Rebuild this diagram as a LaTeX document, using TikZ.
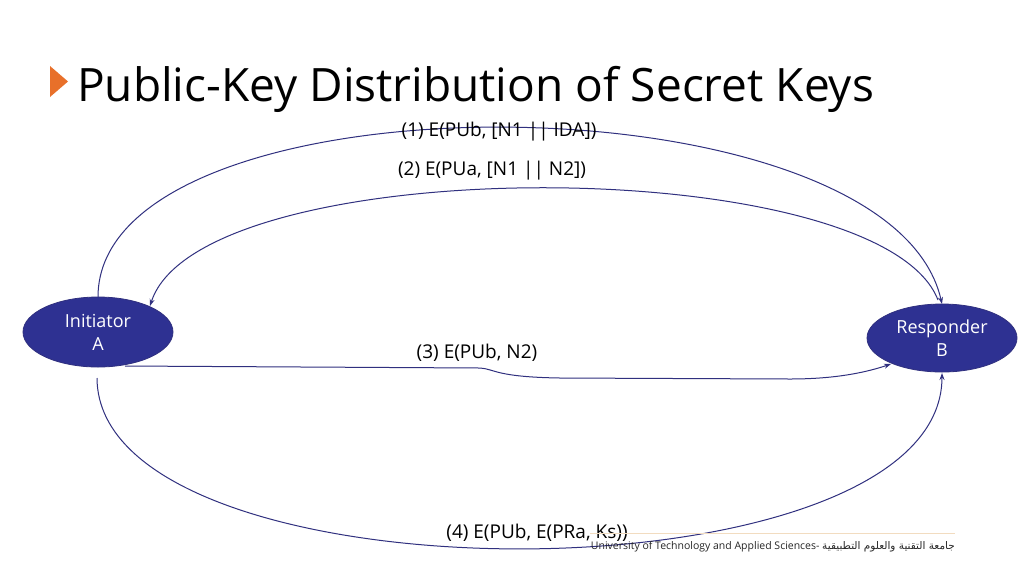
\documentclass[tikz,border=0pt]{standalone}
\usepackage{fontspec}
\setmainfont{Open Sans}
\newfontfamily\arabicfont[Script=Arabic]{DejaVu Sans}
\TeXXeTstate=1
\usetikzlibrary{shapes.geometric,arrows.meta}
\definecolor{navy}{HTML}{2E3192}
\definecolor{linecol}{HTML}{30307F}
\definecolor{orng}{HTML}{E8702A}
\definecolor{beige}{HTML}{F2DCC0}
\begin{document}
\begin{tikzpicture}[x=1pt,y=-1pt,
  party/.style={ellipse,fill=navy,draw=linecol,line width=0.8pt,minimum width=150pt,minimum height=70pt,inner sep=0pt,text=white,align=center,font=\fontsize{18}{22}\selectfont},
  msg/.style={draw=linecol,line width=1pt,-{Stealth[length=7pt,width=5pt]}},
  lbl/.style={font=\fontsize{19}{22}\selectfont,text=black,inner sep=0pt,anchor=base}]
\useasboundingbox (0,0) rectangle (1024,574);
\fill[white] (0,0) rectangle (1024,574);
% title
\fill[orng] (50,66) -- (68,81.5) -- (50,97) -- cycle;
\node[anchor=base west,inner sep=0pt,font=\fontsize{46}{50}\selectfont] (title) at (77,101) {Public-Key Distribution of Secret Keys};
% parties
\node[party] (A) at (98,332) {Initiator\\[1pt]A};
\node[party,minimum height=68pt] (B) at (942,338) {Responder\\[1pt]B};
% connector end points
\coordinate (a1) at (98,297);
\coordinate (b1) at (942,304);
\coordinate (b2) at (938,300);
\coordinate (a2) at (150,306);
\coordinate (a3) at (125,366);
\coordinate (b3) at (891,364);
\coordinate (a4) at (97,378);
\coordinate (b4) at (942,373);
% (1)
\draw[msg] (a1) .. controls (98,70) and (889,70) .. (b1);
% (2)
\draw[msg] (b2) .. controls (880,150) and (200,150) .. (a2);
% (3)
\draw[msg] (a3) -- (480,368) .. controls (495,369) and (495,377) .. (560,378) -- (790,379) .. controls (840,379) and (870,371) .. (b3);
% (4)
\draw[msg] (a4) .. controls (98,606) and (942,606) .. (b4);
% labels
\node[lbl] (l1) at (499,136) {(1) E(PUb, [N1 || IDA])};
\node[lbl] (l2) at (492,175) {(2) E(PUa, [N1 || N2])};
\node[lbl] (l3) at (477,358) {(3) E(PUb, N2)};
\node[lbl] (l4) at (537,538) {(4) E(PUb, E(PRa, Ks))};
% footer
\draw[beige,line width=0.8pt] (590,533) -- (955,533);
\node[anchor=east,inner sep=0pt,font=\fontsize{10.5}{12}\selectfont,text=black!85] (foot) at (955,547) {University of Technology and Applied Sciences- {\arabicfont\beginR جامعة التقنية والعلوم التطبيقية\endR}};
\end{tikzpicture}
\end{document}
